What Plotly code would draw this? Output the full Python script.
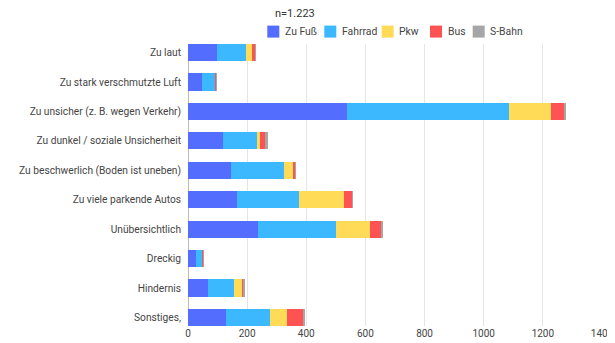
import plotly.graph_objects as go

categories = [
    "Zu laut",
    "Zu stark verschmutzte Luft",
    "Zu unsicher (z. B. wegen Verkehr)",
    "Zu dunkel / soziale Unsicherheit",
    "Zu beschwerlich (Boden ist uneben)",
    "Zu viele parkende Autos",
    "Unübersichtlich",
    "Dreckig",
    "Hindernis",
    "Sonstiges,",
]

zu_fuss = [99, 46, 537, 119, 147, 167, 237, 26, 68, 130]
fahrrad = [97, 46, 550, 116, 179, 207, 262, 22, 87, 147]
pkw = [21, 2, 139, 9, 29, 152, 117, 1, 26, 57]
bus = [10, 2, 47, 17, 8, 29, 39, 3, 8, 58]
s_bahn = [1, 1, 2, 11, 1, 2, 2, 1, 1, 2]

series_names = ["Zu Fuß", "Fahrrad", "Pkw", "Bus", "S-Bahn"]
series_values = [zu_fuss, fahrrad, pkw, bus, s_bahn]
series_colors = ["#536DFE", "#3BB8FF", "#FFDB58", "#FF5252", "#A6A6A6"]

# page is rendered with an 8px body margin, so the figure is 8px smaller
OFF = 8
W, H = 615 - OFF, 343 - OFF
ML, MR, MT, MB = 188 - OFF, 13, 44 - OFF, 17
PW, PH = W - ML - MR, H - MT - MB


def px_x(x):  # page pixel -> paper x
    return (x - OFF - ML) / PW


def px_y(y):  # page pixel -> paper y
    return 1 + (MT - (y - OFF)) / PH


fig = go.Figure()
for name, vals, color in zip(series_names, series_values, series_colors):
    fig.add_trace(go.Bar(
        y=categories, x=vals, name=name, orientation="h",
        marker=dict(color=color, line=dict(width=0)),
    ))

# legend drawn as boxes + labels
legend_x = [267.3, 324.3, 381.7, 430.0, 472.7]
shapes = []
annotations = []
for lx, name, color in zip(legend_x, series_names, series_colors):
    shapes.append(dict(type="rect", xref="paper", yref="paper",
                       x0=px_x(lx), x1=px_x(lx + 12),
                       y0=px_y(37.6), y1=px_y(25.6),
                       fillcolor=color, line=dict(width=0)))
    annotations.append(dict(text=name, xref="paper", yref="paper",
                            x=px_x(lx + 15.5), xanchor="left",
                            y=px_y(31.6), yanchor="middle",
                            showarrow=False, font=dict(size=10.4, color="#444")))

fig.update_layout(
    width=W, height=H,
    barmode="stack", bargap=0.42,
    paper_bgcolor="white", plot_bgcolor="white",
    font=dict(family="Roboto, Arial, sans-serif", size=10.4, color="#444"),
    margin=dict(l=ML, r=MR, t=MT, b=MB),
    showlegend=False,
    shapes=shapes,
    annotations=annotations,
)
fig.add_annotation(text="n=1.223", xref="paper", yref="paper",
                   x=px_x(272.5), xanchor="left", y=px_y(13), yanchor="middle",
                   showarrow=False, font=dict(size=11, color="#333"))

fig.update_xaxes(range=[0, 1400], dtick=200, showgrid=True, gridcolor="#E5E5E5",
                 zeroline=True, zerolinecolor="#BBBBBB", zerolinewidth=1,
                 ticks="", tickfont=dict(size=10, color="#444"), fixedrange=True,
                 automargin=False)
fig.update_yaxes(categoryorder="array", categoryarray=categories,
                 range=[9.29, -0.29], ticks="", showgrid=False,
                 tickfont=dict(size=10.2, color="#444"), ticklabelstandoff=6,
                 fixedrange=True, automargin=False)

fig.write_html("out.html")
